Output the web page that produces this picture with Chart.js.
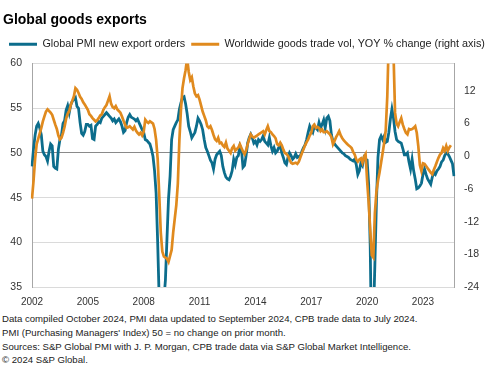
<!DOCTYPE html>
<html>
<head>
<meta charset="utf-8">
<script src="https://cdn.jsdelivr.net/npm/chart.js@4.4.1/dist/chart.umd.min.js"></script>
<style>
  html, body { margin: 0; padding: 0; background: #fff; }
  #wrap { width: 499px; height: 376px; position: relative; overflow: hidden; }
  canvas { display: block; }
  .notes { font-family: 'Liberation Sans', Arial, sans-serif; font-size: 9.6px; line-height: 13.8px; color: #222; padding-left: 2px; margin-top: 2px; white-space: nowrap; }
</style>
</head>
<body>
<div id="wrap">
  <canvas id="c" width="499" height="310"></canvas>
  <div class="notes">
    Data compiled October 2024, PMI data updated to September 2024, CPB trade data to July 2024.<br>
    PMI (Purchasing Managers' Index) 50 = no change on prior month.<br>
    Sources: S&amp;P Global PMI with J. P. Morgan, CPB trade data via S&amp;P Global Market Intelligence.<br>
    © 2024 S&amp;P Global.
  </div>
</div>
<script>
// Monthly data, Jan 2002 onward
const startYear = 2002;
// Global PMI new export orders (left axis), Jan 2002 - Sep 2024
const pmiExportOrders = [
  48.5, 50.5, 52.0, 53.0, 53.3, 52.8, 52.0, 50.2, 49.8, 49.6, 49.1, 50.2, // 2002
  51.0, 50.8, 48.5, 48.3, 48.2, 50.4, 51.5, 52.0, 53.3, 53.6, 54.8, 55.3, // 2003
  54.5, 55.4, 55.8, 56.0, 56.2, 55.2, 55.0, 53.4, 52.2, 52.0, 52.4, 53.2, // 2004
  53.2, 53.0, 53.1, 51.6, 51.5, 53.0, 53.2, 53.5, 53.4, 53.9, 54.1, 54.3, // 2005
  54.5, 54.3, 54.1, 53.9, 53.6, 53.8, 53.4, 53.6, 53.8, 53.5, 53.0, 52.3, // 2006
  52.5, 53.4, 54.0, 54.3, 54.0, 53.9, 53.8, 53.6, 53.8, 53.4, 53.0, 52.6, // 2007
  52.3, 51.5, 51.4, 51.2, 51.0, 50.4, 49.6, 48.0, 45.5, 40.0, 33.5, 30.0, // 2008
  30.5, 33.5, 35.8, 40.4, 44.9, 47.4, 51.5, 52.6, 53.0, 53.4, 53.7, 54.9, // 2009
  55.6, 56.2, 56.3, 55.5, 54.4, 53.0, 52.4, 51.7, 52.0, 52.3, 53.0, 53.9, // 2010
  53.6, 53.2, 52.6, 51.5, 50.6, 50.2, 49.7, 49.2, 48.9, 48.2, 49.3, 49.8, // 2011
  50.0, 50.2, 49.7, 48.5, 47.8, 47.3, 47.1, 47.0, 47.4, 48.0, 49.3, 48.7, // 2012
  49.5, 49.7, 50.8, 50.4, 48.4, 48.6, 49.7, 51.1, 51.7, 52.1, 51.7, 51.1, // 2013
  51.3, 50.9, 51.5, 51.3, 51.5, 51.9, 51.3, 51.1, 50.9, 51.7, 50.8, 50.2, // 2014
  50.6, 50.0, 50.2, 50.6, 50.9, 50.0, 49.5, 48.9, 48.7, 49.5, 50.0, 49.7, // 2015
  49.3, 49.5, 49.9, 49.5, 49.6, 49.7, 50.2, 50.6, 50.9, 51.5, 52.3, 53.0, // 2016
  52.6, 52.3, 53.0, 52.8, 52.6, 53.4, 52.8, 53.2, 53.7, 52.8, 53.9, 54.1, // 2017
  53.6, 52.0, 51.3, 51.0, 50.8, 50.6, 50.4, 50.2, 50.0, 49.9, 49.7, 49.6, // 2018
  49.5, 49.3, 49.2, 49.1, 49.3, 48.7, 47.6, 48.0, 48.9, 48.6, 49.5, 49.3, // 2019
  49.2, 46.5, 39.5, 27.0, 31.0, 37.5, 44.5, 49.5, 51.5, 51.9, 51.5, 51.9, // 2020
  51.2, 51.3, 52.3, 53.8, 54.9, 53.9, 52.4, 51.5, 51.3, 51.2, 51.1, 50.5, // 2021
  49.8, 49.8, 50.0, 49.0, 48.2, 49.3, 48.0, 47.1, 46.0, 46.1, 46.3, 46.6, // 2022
  47.6, 48.2, 47.6, 47.1, 46.8, 46.5, 47.3, 47.8, 47.6, 48.0, 48.2, 48.5, // 2023
  49.0, 49.2, 49.7, 50.0, 49.9, 49.6, 49.2, 48.8, 47.4                    // 2024
];
// Worldwide goods trade volume, YOY % change (right axis), Jan 2002 - Jul 2024
const tradeVolYoY = [
  -7.8, -4.5, -0.5, 2.2, 3.2, 4.2, 5.2, 6.4, 7.3, 8.2, 8.6, 8.3,          // 2002
  8.0, 7.6, 6.7, 5.8, 5.0, 3.8, 3.1, 3.4, 4.3, 5.4, 6.9, 7.8,             // 2003
  8.3, 9.4, 10.2, 11.0, 12.5, 12.2, 11.6, 10.9, 10.5, 9.9, 9.5, 9.0,      // 2004
  8.5, 7.7, 7.4, 7.0, 6.7, 6.4, 6.6, 7.0, 7.5, 7.7, 8.5, 9.0,             // 2005
  9.4, 10.2, 11.0, 9.6, 9.0, 8.8, 9.2, 8.6, 8.3, 8.0, 7.3, 6.5,           // 2006
  5.8, 5.2, 5.3, 5.5, 5.2, 4.9, 5.4, 4.7, 4.3, 4.0, 4.3, 3.8,             // 2007
  4.5, 6.7, 6.3, 6.1, 6.4, 6.2, 6.0, 5.0, 3.0, -0.5, -7.0, -14.0,         // 2008
  -17.5, -18.4, -18.6, -18.8, -19.4, -18.3, -17.2, -14.0, -11.5, -9.0, -5.0, 3.0, // 2009
  8.5, 12.5, 14.3, 15.8, 18.0, 15.5, 14.0, 14.5, 12.8, 11.5, 11.0, 11.2,  // 2010
  10.4, 9.3, 8.2, 7.4, 6.6, 5.5, 5.2, 5.5, 4.8, 3.9, 3.1, 2.8,            // 2011
  3.4, 2.4, 2.5, 2.0, 1.7, 2.5, 1.4, 1.0, 0.6, 1.5, 1.9, 1.0,             // 2012
  1.3, 1.6, 2.2, 1.5, 0.9, 0.4, 1.1, 2.2, 3.2, 4.0, 3.6, 3.4,             // 2013
  3.6, 3.8, 4.0, 4.2, 4.4, 4.6, 4.0, 4.8, 5.5, 4.6, 4.4, 4.0,             // 2014
  3.7, 3.3, 2.2, 2.0, 2.5, 2.0, 1.2, 0.6, 0.4, 0.1, -0.6, -1.2,           // 2015
  -1.4, -1.3, -1.2, -1.4, -1.0, -0.2, 0.6, 1.3, 2.0, 2.6, 3.1, 3.8,       // 2016
  4.3, 5.5, 5.8, 5.2, 5.4, 5.2, 4.6, 4.9, 4.4, 4.4, 4.6, 4.3,             // 2017
  4.0, 3.5, 2.2, 2.8, 3.5, 4.0, 4.6, 3.8, 3.3, 2.9, 2.6, 2.3,             // 2018
  2.0, 1.8, 1.5, 0.8, 0.3, -0.6, -1.0, -0.6, -0.4, -1.2, -0.1, 0.4,       // 2019
  -4.5, -8.5, -13.5, -18.2, -18.6, -10.5, -6.5, -4.5, -3.0, -1.2, 0.6, 2.5, // 2020
  4.8, 11.0, 22.0, 30.0, 27.0, 19.0, 8.0, 6.0, 5.5, 6.3, 7.0, 5.8,        // 2021
  5.0, 4.3, 4.0, 5.0, 4.9, 5.0, 5.2, 5.5, 4.3, 1.8, -1.6, -2.7,           // 2022
  -1.3, -1.4, -1.8, -2.2, -2.6, -3.0, -3.3, -2.5, -1.8, -1.0, -0.3, 0.3,  // 2023
  0.6, 1.5, 1.0, 1.9, 1.0, 1.6, 2.0                                       // 2024
];
const yearTickLabels = [2002, 2005, 2008, 2011, 2014, 2017, 2020, 2023];
const leftTicks = [35, 40, 45, 50, 55, 60];
const rightTicks = [-24, -18, -12, -6, 0, 6, 12];

const monthLabels = pmiExportOrders.map((_, i) => {
  const y = startYear + Math.floor(i / 12);
  const m = (i % 12) + 1;
  return y + '-' + String(m).padStart(2, '0');
});

const BLUE = '#0c6d8c';
const ORANGE = '#e08a1e';
const FONT = "'Liberation Sans', Arial, sans-serif";
const TICK_COLOR = '#333333';

// adds a little space below the legend row
const legendGap = {
  id: 'legendGap',
  beforeUpdate(chart) {
    const lg = chart.legend;
    if (lg && !lg._gapPatched) {
      const origFit = lg.fit;
      lg.fit = function () { origFit.call(this); this.height += 4; };
      lg._gapPatched = true;
    }
  }
};

new Chart(document.getElementById('c'), {
  type: 'line',
  data: {
    labels: monthLabels,
    datasets: [
      {
        label: 'Global PMI new export orders',
        data: pmiExportOrders,
        yAxisID: 'y',
        borderColor: BLUE,
        backgroundColor: BLUE,
        borderWidth: 2.8,
        pointRadius: 0,
        tension: 0,
        order: 1
      },
      {
        label: 'Worldwide goods trade vol, YOY % change (right axis)',
        data: tradeVolYoY,
        yAxisID: 'y1',
        borderColor: ORANGE,
        backgroundColor: ORANGE,
        borderWidth: 2.7,
        pointRadius: 0,
        tension: 0,
        order: 0
      }
    ]
  },
  plugins: [legendGap],
  options: {
    responsive: false,
    animation: false,
    devicePixelRatio: 1,
    events: [],
    layout: { padding: { top: 0, left: 3, right: 0, bottom: 0 } },
    plugins: {
      tooltip: { enabled: false },
      title: {
        display: true,
        text: 'Global goods exports',
        align: 'start',
        color: '#000',
        font: { family: FONT, size: 14, weight: 'bold' },
        padding: { top: 12, bottom: 4 }
      },
      legend: {
        display: true,
        align: 'start',
        labels: {
          boxWidth: 28,
          boxHeight: 3,
          padding: 6,
          color: '#222',
          font: { family: FONT, size: 10.8 },
          sort: (a, b) => a.datasetIndex - b.datasetIndex,
          generateLabels: (chart) => chart.data.datasets.map((ds, i) => ({
            text: ds.label,
            fillStyle: ds.borderColor,
            strokeStyle: ds.borderColor,
            lineWidth: 0,
            hidden: false,
            datasetIndex: i,
            fontColor: '#222'
          }))
        }
      }
    },
    scales: {
      x: {
        type: 'category',
        offset: false,
        grid: { display: false, drawTicks: false },
        border: { display: false },
        ticks: {
          autoSkip: false,
          maxRotation: 0,
          minRotation: 0,
          padding: 9,
          color: TICK_COLOR,
          font: { family: FONT, size: 10 },
          callback: function (value, index) {
            const lab = monthLabels[index];
            const yr = parseInt(lab.slice(0, 4), 10);
            if (lab.slice(5) === '01' && yearTickLabels.includes(yr)) return String(yr);
            return null;
          }
        },
        afterFit: (s) => { s.height = 23; }
      },
      y: {
        position: 'left',
        min: 35,
        max: 60,
        afterBuildTicks: (s) => { s.ticks = leftTicks.map(v => ({ value: v })); },
        grid: {
          drawTicks: false,
          lineWidth: 1,
          color: (ctx) => (ctx.tick && ctx.tick.value === 50) ? '#8a8a8a' : '#dadada'
        },
        border: { display: true, color: '#a6a6a6', width: 1 },
        ticks: { padding: 10, color: TICK_COLOR, font: { family: FONT, size: 10.5 } },
        afterFit: (s) => { s.width = 29; }
      },
      y1: {
        position: 'right',
        min: -24,
        max: 17,
        afterBuildTicks: (s) => { s.ticks = rightTicks.map(v => ({ value: v })); },
        grid: { drawOnChartArea: false, drawTicks: false },
        border: { display: true, color: '#a6a6a6', width: 1 },
        ticks: { padding: 10, color: TICK_COLOR, font: { family: FONT, size: 10.5 } },
        afterFit: (s) => { s.width = 45; }
      }
    }
  }
});
</script>
</body>
</html>
